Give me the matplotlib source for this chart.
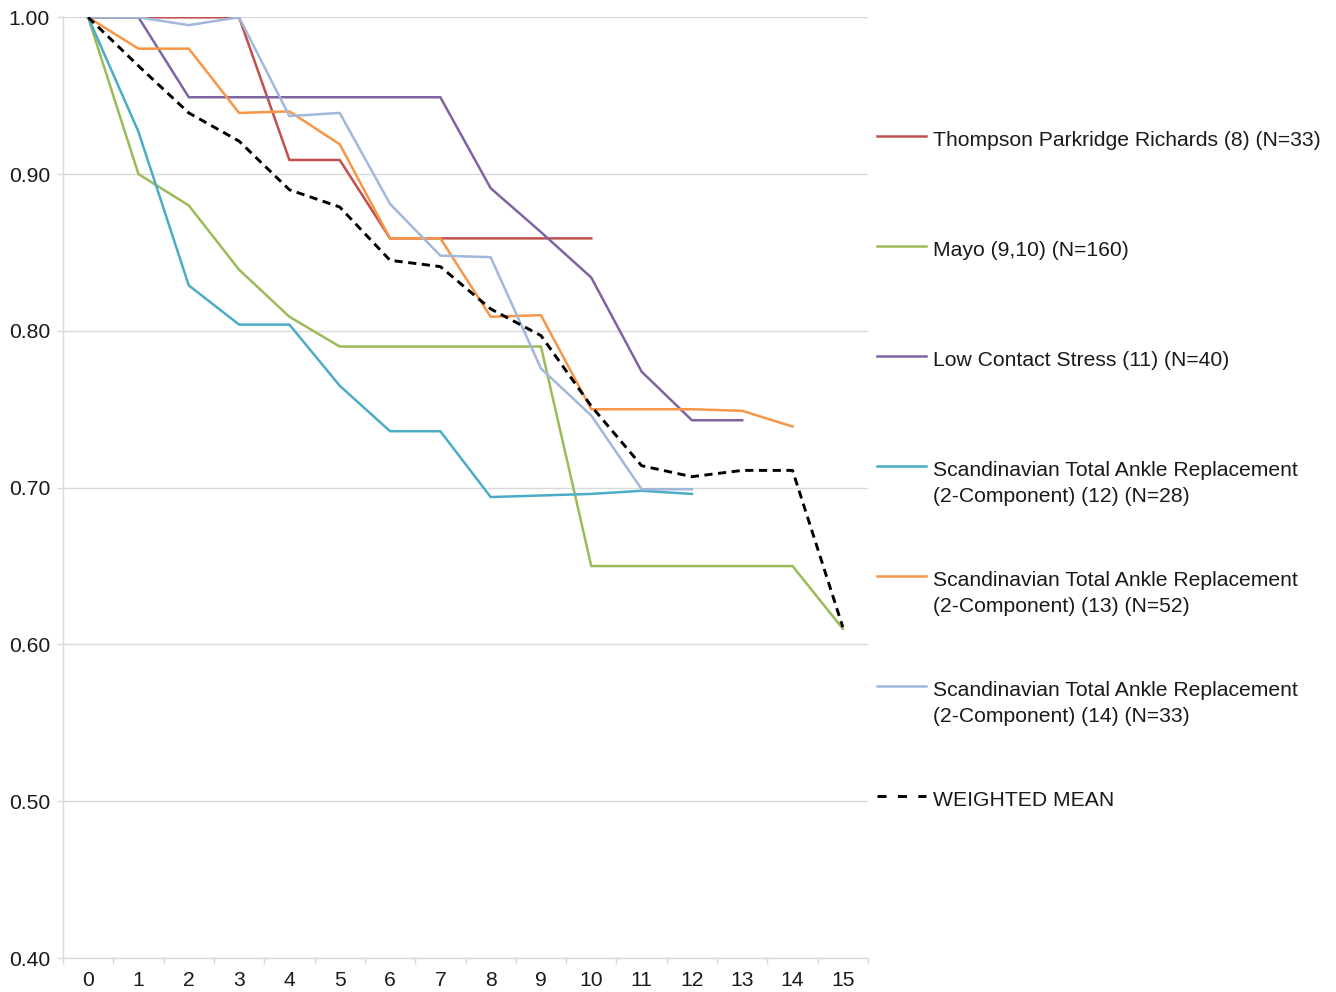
import matplotlib
matplotlib.use('Agg')
import matplotlib.pyplot as plt
import numpy as np
from matplotlib.lines import Line2D

plt.rcParams['font.family'] = ['Liberation Sans', 'DejaVu Sans']

# 数据
years = list(range(16))
tpr = [1.00, 1.00, 1.00, 1.00, 0.909, 0.909, 0.859, 0.859, 0.859, 0.859, 0.859]
mayo = [1.00, 0.900, 0.880, 0.839, 0.809, 0.790, 0.790, 0.790, 0.790, 0.790,
        0.650, 0.650, 0.650, 0.650, 0.650, 0.610]
lcs = [1.00, 1.00, 0.949, 0.949, 0.949, 0.949, 0.949, 0.949, 0.891, 0.863,
       0.834, 0.774, 0.743, 0.743]
star12 = [1.00, 0.927, 0.829, 0.804, 0.804, 0.765, 0.736, 0.736, 0.694, 0.695,
          0.696, 0.698, 0.696]
star13 = [1.00, 0.980, 0.980, 0.939, 0.940, 0.919, 0.859, 0.859, 0.809, 0.810,
          0.750, 0.750, 0.750, 0.749, 0.739]
star14 = [1.00, 1.00, 0.995, 1.00, 0.937, 0.939, 0.881, 0.848, 0.847, 0.776,
          0.746, 0.699, 0.699]
weighted_mean = [1.00, 0.969, 0.939, 0.921, 0.890, 0.879, 0.845, 0.841, 0.814,
                 0.797, 0.752, 0.714, 0.707, 0.711, 0.711, 0.611]

labels = [
    ["Thompson Parkridge Richards (8) (N=33)"],
    ["Mayo (9,10) (N=160)"],
    ["Low Contact Stress (11) (N=40)"],
    ["Scandinavian Total Ankle Replacement", "(2-Component) (12) (N=28)"],
    ["Scandinavian Total Ankle Replacement", "(2-Component) (13) (N=52)"],
    ["Scandinavian Total Ankle Replacement", "(2-Component) (14) (N=33)"],
    ["WEIGHTED MEAN"],
]
series = [tpr, mayo, lcs, star12, star13, star14, weighted_mean]
colors = ['#C0504D', '#9BBB59', '#8064A2', '#4BACC6', '#F79646', '#A1B8DB', '#000000']

W, H = 1336, 992
fig = plt.figure(figsize=(W / 100, H / 100), dpi=100)
ax = fig.add_axes([63 / W, 1 - 958 / H, 805 / W, (958 - 17.3) / H])

text_color = '#1a1a1a'
fs = 15.2

for i, (vals, c) in enumerate(zip(series, colors)):
    x = years[:len(vals)]
    if i == len(series) - 1:
        ax.plot(x, vals, color=c, lw=2.1, linestyle=(0, (2.8, 1.9)), zorder=3)
    else:
        ax.plot(x, vals, color=c, lw=1.8, solid_joinstyle='miter', zorder=2)

ax.set_xlim(-0.5, 15.5)
ax.set_ylim(0.40, 1.00)
ax.set_yticks(np.arange(0.40, 1.001, 0.10))
ax.set_yticklabels([f'{v:.2f}' for v in np.arange(0.40, 1.001, 0.10)])
ax.yaxis.grid(True, color='#D9D9D9', lw=1.0)
ax.set_axisbelow(True)

# X轴: 刻度在类别之间, 标签在类别中心
ax.set_xticks(np.arange(-0.5, 15.6, 1.0))
ax.set_xticklabels([])
ax.set_xticks(years, minor=True)
ax.set_xticklabels([str(y) for y in years], minor=True)
ax.tick_params(axis='x', which='major', length=4.3, width=1.0, color='#D9D9D9', direction='out')
ax.tick_params(axis='x', which='minor', length=0, pad=9, labelsize=fs, labelcolor=text_color)
ax.tick_params(axis='y', length=4.3, width=1.0, color='#D9D9D9', pad=5, labelsize=fs,
               labelcolor=text_color)

for s in ['top', 'right']:
    ax.spines[s].set_visible(False)
for s in ['left', 'bottom']:
    ax.spines[s].set_color('#D9D9D9')
    ax.spines[s].set_linewidth(1.0)

# 图例 (手动放置)
for i, (lab, c) in enumerate(zip(labels, colors)):
    hy = 136 + 110 * i
    if i == len(labels) - 1:
        fig.add_artist(Line2D([877 / W, 926 / W], [1 - hy / H, 1 - hy / H], color=c,
                              lw=2.1, linestyle=(0, (3.1, 3.9)), transform=fig.transFigure))
    else:
        fig.add_artist(Line2D([877 / W, 926 / W], [1 - hy / H, 1 - hy / H], color=c,
                              lw=1.8, transform=fig.transFigure))
    for j, line in enumerate(lab):
        by = hy + 10.5 + 25.3 * j
        fig.text(933 / W, 1 - by / H, line, fontsize=fs, color=text_color,
                 ha='left', va='baseline')

fig.savefig('out.png', dpi=100)
plt.close(fig)
